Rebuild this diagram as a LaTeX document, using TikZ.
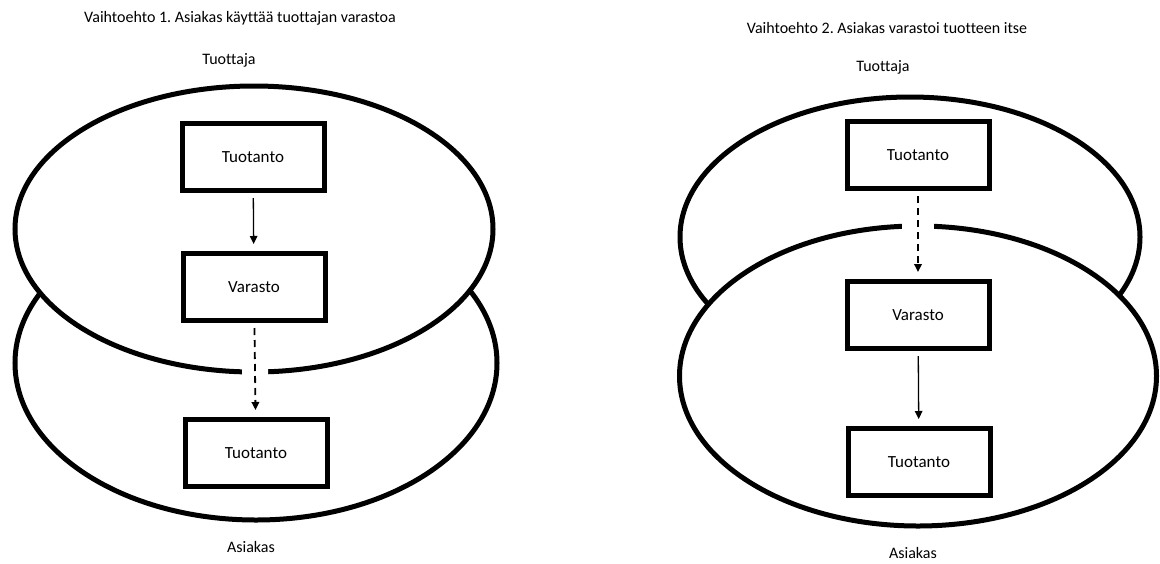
\documentclass[tikz,border=0pt]{standalone}
\usepackage{fontspec}
\setmainfont{Carlito}[Ligatures=NoCommon]
\usetikzlibrary{shapes.geometric,arrows.meta}

\begin{document}
\frenchspacing
\begin{tikzpicture}[x=1pt, y=-1pt, >={Triangle[length=8pt,width=7.5pt]},
    every node/.style={font=\fontsize{16}{19}\selectfont},
    piiri/.style={draw, ellipse, line width=5pt, inner sep=0pt},
    laatikko/.style={draw, line width=5pt, minimum width=142pt, minimum height=67pt, inner sep=0pt,
        font=\fontsize{17}{20}\selectfont},
    nuoli/.style={->, line width=1.3pt, shorten <=5pt, shorten >=7pt},
    katko/.style={nuoli, line width=1.8pt, dash pattern=on 7pt off 5pt,
        preaction={draw=white, solid, -, line width=#1}},
    katko/.default=26pt]
    \useasboundingbox (0,0) rectangle (1160,563);

    % Vaihtoehto 1
    \node (otsL) at (240, 18) {Vaihtoehto 1. Asiakas käyttää tuottajan varastoa};
    \node (tuottajaL) at (229, 60) {Tuottaja};
    \node[piiri, minimum width=482pt, minimum height=314pt] (asiakasPL) at (256, 363) {};
    \node[piiri, fill=white, minimum width=478pt, minimum height=286pt] (tuottajaPL) at (254, 229) {};
    \node[laatikko] (tuotL) at (253, 157) {Tuotanto};
    \node[laatikko] (varL) at (254, 287) {Varasto};
    \node[laatikko] (tuotL2) at (256, 453) {Tuotanto};
    \node (asiakasL) at (251, 547) {Asiakas};

    \draw[nuoli] (tuotL) -- (varL);
    \draw[katko] (varL) -- (tuotL2);

    % Vaihtoehto 2
    \node (otsR) at (887, 28) {Vaihtoehto 2. Asiakas varastoi tuotteen itse};
    \node (tuottajaR) at (883, 67) {Tuottaja};
    \node[piiri, minimum width=460pt, minimum height=280pt] (tuottajaPR) at (910, 237) {};
    \node[piiri, fill=white, minimum width=477pt, minimum height=300pt] (asiakasPR) at (918, 376) {};
    \node[laatikko] (tuotR) at (918, 155) {Tuotanto};
    \node[laatikko] (varR) at (918, 315) {Varasto};
    \node[laatikko] (tuotR2) at (919, 462) {Tuotanto};
    \node (asiakasR) at (913, 553) {Asiakas};

    \draw[katko=32pt] (tuotR) -- (varR);
    \draw[nuoli] (varR) -- (tuotR2);
\end{tikzpicture}
\end{document}
